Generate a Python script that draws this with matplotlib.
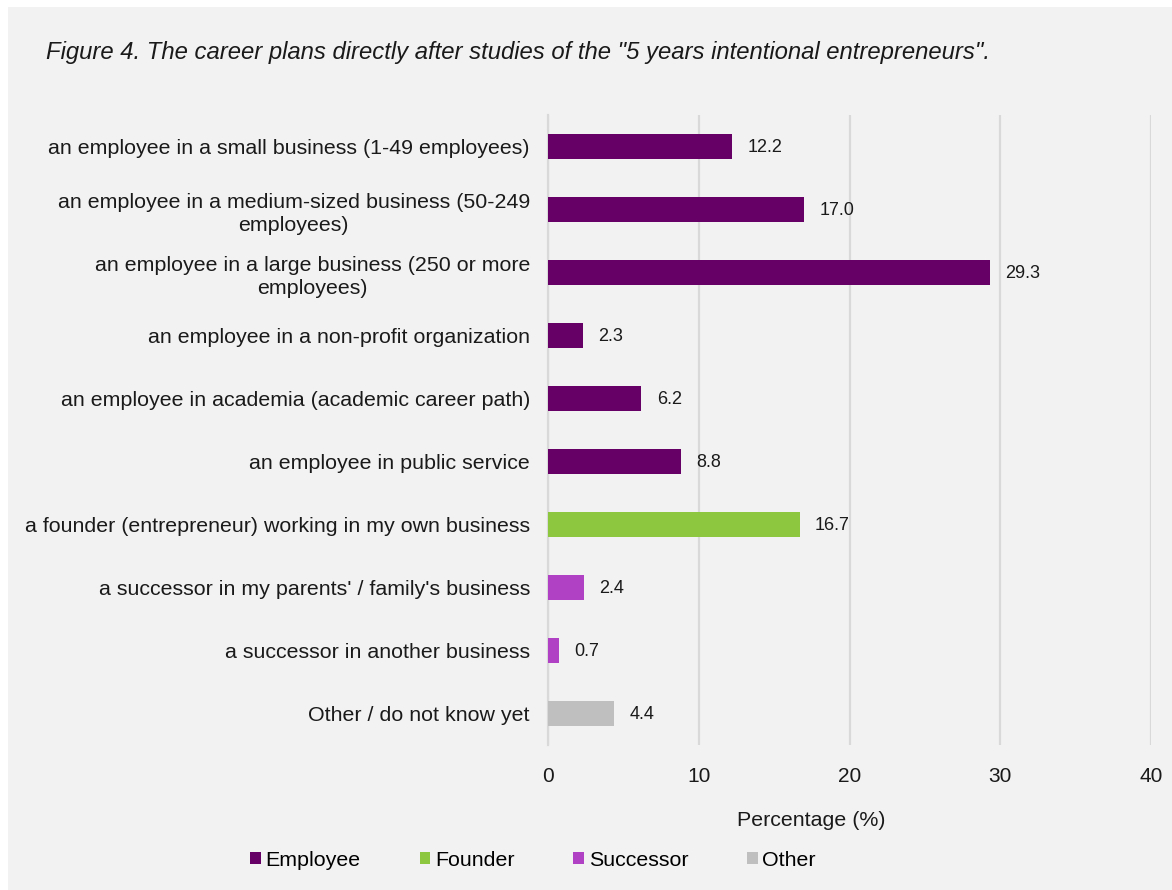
import matplotlib
matplotlib.use("Agg")
import matplotlib.pyplot as plt
from matplotlib.patches import Rectangle, Patch

plt.rcParams['font.family'] = ['Liberation Sans', 'DejaVu Sans']

categories = [
    "an employee in a small business (1-49 employees)",
    "an employee in a medium-sized business (50-249\nemployees)",
    "an employee in a large business (250 or more\nemployees)",
    "an employee in a non-profit organization",
    "an employee in academia (academic career path)",
    "an employee in public service",
    "a founder (entrepreneur) working in my own business",
    "a successor in my parents' / family's business",
    "a successor in another business",
    "Other / do not know yet",
]
values = [12.2, 17.0, 29.3, 2.3, 6.2, 8.8, 16.7, 2.4, 0.7, 4.4]
groups = ["Employee"] * 6 + ["Founder"] + ["Successor"] * 2 + ["Other"]
group_names = ["Employee", "Founder", "Successor", "Other"]
group_colors = {"Employee": "#660066", "Founder": "#8dc63f",
                "Successor": "#b040c4", "Other": "#bfbfbf"}
x_ticks = [0, 10, 20, 30, 40]

W, H = 1172, 890
fig = plt.figure(figsize=(W / 100, H / 100), dpi=100)
fig.patch.set_facecolor("white")
fig.patches.append(Rectangle((8 / W, 0), 1 - 8 / W, 1 - 7 / H,
                             transform=fig.transFigure, facecolor="#f2f2f2",
                             edgecolor="none", zorder=-10))

ax = fig.add_axes([548 / W, 1 - 745 / H, (1151 - 548) / W, (745 - 115) / H])
ax.set_facecolor("none")

pos = list(range(len(categories)))
colors = [group_colors[g] for g in groups]
ax.barh(pos, values, height=0.41, color=colors, zorder=3)
for p, v in zip(pos, values):
    ax.annotate(f"{v:.1f}", (v, p), xytext=(11, -1), textcoords="offset points",
                va="center", ha="left", fontsize=13, color="#1a1a1a")

ax.set_xlim(0, 40)
ax.set_ylim(len(categories) - 0.5, -0.5)
ax.set_xticks(x_ticks)
ax.set_xticklabels([str(t) for t in x_ticks], fontsize=15, color="#1a1a1a")
ax.set_yticks(pos)
ax.set_yticklabels(categories, fontsize=15.4, color="#1a1a1a",
                   linespacing=1.3, multialignment="center")
ax.tick_params(axis="both", length=0)
ax.tick_params(axis="x", pad=16)
ax.tick_params(axis="y", pad=13)
ax.grid(axis="x", color="#d9d9d9", linewidth=1.6, zorder=0)
for s in ["top", "right", "bottom"]:
    ax.spines[s].set_visible(False)
ax.spines["left"].set_color("#d9d9d9")
ax.spines["left"].set_linewidth(1.6)
ax.spines["left"].set_zorder(1)

ax.set_xlabel("Percentage (%)", fontsize=15.4, color="#1a1a1a")
ax.xaxis.set_label_coords((811 - 548) / (1151 - 548), -(820 - 745) / (745 - 115))
ax.xaxis.label.set_va("center")

fig.text(46 / W, 1 - 52 / H,
         'Figure 4. The career plans directly after studies of the "5 years intentional entrepreneurs".',
         fontsize=17.2, style="italic", color="#1a1a1a", va="center", ha="left")

handles = [Patch(facecolor=group_colors[g], edgecolor="none") for g in group_names]
fig.legend(handles, group_names, loc="center", bbox_to_anchor=(533 / W, 1 - 860 / H),
           ncol=4, frameon=False, fontsize=15.4, handlelength=0.5, handleheight=0.5,
           handletextpad=0.22, columnspacing=2.75)

fig.savefig("out.png", dpi=100, facecolor=fig.get_facecolor())
